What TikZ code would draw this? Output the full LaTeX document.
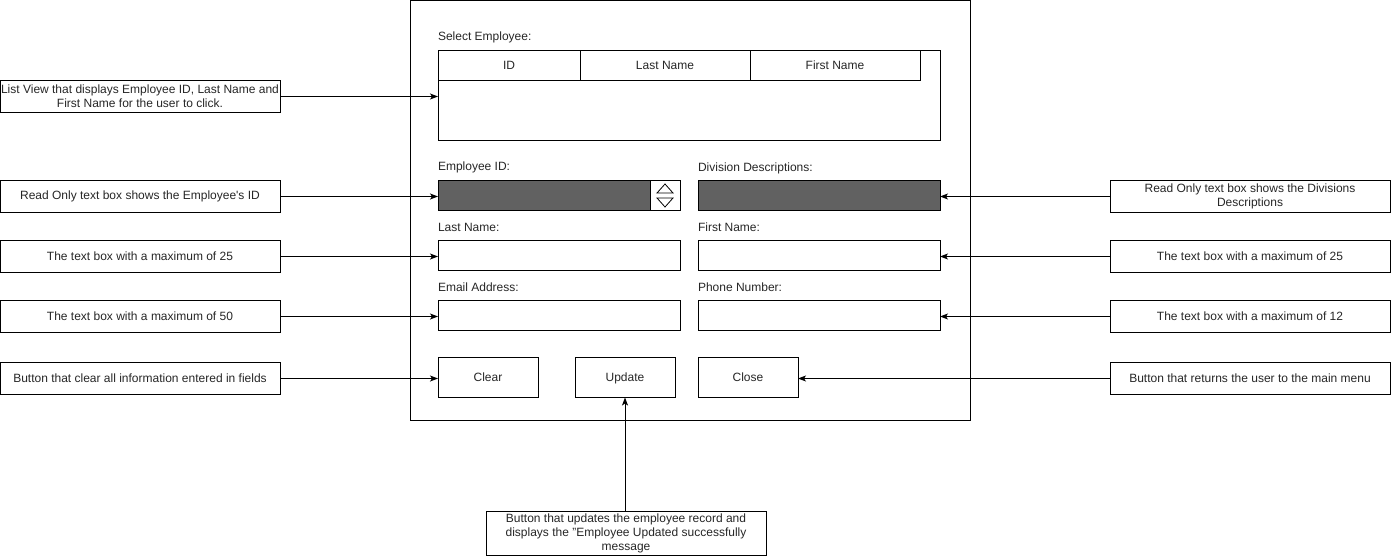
\documentclass[tikz,border=0pt]{standalone}
\usepackage{fontspec}
\setmainfont{Liberation Sans}
\usetikzlibrary{arrows.meta}
\begin{document}
\begin{tikzpicture}[x=1pt,y=-1pt,
  every node/.style={inner sep=0pt,outer sep=0pt,font=\fontsize{12}{14}\selectfont,text=black!85},
  box/.style={draw=black,line width=1pt,rectangle},
  lbl/.style={box,minimum width=280pt,minimum height=32pt,align=center},
  field/.style={box,minimum width=242pt,minimum height=30pt},
  ro/.style={field,fill=black!62},
  btn/.style={box,minimum width=100pt,minimum height=40pt,text height=8.6pt,text depth=0pt},
  hcell/.style={box,minimum height=30pt,text height=8.6pt,text depth=0pt},
  fldcap/.style={anchor=west},
  arr/.style={line width=1pt,-{Stealth[length=8pt,width=6pt,inset=2pt]}}]
\useasboundingbox (0,0) rectangle (1391,556);

% form frame
\node[box,minimum width=560pt,minimum height=420pt] (frame) at (690,210.5) {};

% employee list view
\node[fldcap] (selcap) at (438,37) {Select Employee:};
\node[box,minimum width=502pt,minimum height=90pt] (list) at (689,95.5) {};
\node[hcell,minimum width=142pt] (hid) at (509,65.5) {ID};
\node[hcell,minimum width=170pt] (hlast) at (665,65.5) {Last Name};
\node[hcell,minimum width=170pt] (hfirst) at (835,65.5) {First Name};

% read-only fields
\node[fldcap] (eidcap) at (438,167) {Employee ID:};
\node[ro] (eid) at (559,195.5) {};
\node[box,fill=white,minimum width=30pt,minimum height=30pt] (spin) at (665,195.5) {};
\draw[line width=0.8pt] (657,193) -- (665,184) -- (673,193) -- cycle;
\draw[line width=0.8pt] (657,198) -- (665,207) -- (673,198) -- cycle;
\node[fldcap] (divcap) at (698,168) {Division Descriptions:};
\node[ro] (div) at (819,195.5) {};

% editable fields
\node[fldcap] (lastcap) at (438,227) {Last Name:};
\node[field] (last) at (559,255.5) {};
\node[fldcap] (firstcap) at (698,227) {First Name:};
\node[field] (first) at (819,255.5) {};
\node[fldcap] (mailcap) at (438,287) {Email Address:};
\node[field] (mail) at (559,315.5) {};
\node[fldcap] (phonecap) at (698,287) {Phone Number:};
\node[field] (phone) at (819,315.5) {};

% buttons
\node[btn] (clear) at (488,377.5) {Clear};
\node[btn] (update) at (625,377.5) {Update};
\node[btn] (close) at (748,377.5) {Close};

% annotations, left
\node[lbl] (nlist) at (140,96.5) {List View that displays Employee ID, Last Name and\\First Name for the user to click.};
\node[lbl] (neid) at (140,196.5) {Read Only text box shows the Employee\textquotesingle s ID};
\node[lbl] (nlast) at (140,256.5) {The text box with a maximum of 25};
\node[lbl] (nmail) at (140,316.5) {The text box with a maximum of 50};
\node[lbl] (nclear) at (140,378.5) {Button that clear all information entered in fields};

% annotations, right
\node[lbl] (ndiv) at (1250,196.5) {Read Only text box shows the Divisions\\Descriptions};
\node[lbl] (nfirst) at (1250,256.5) {The text box with a maximum of 25};
\node[lbl] (nphone) at (1250,316.5) {The text box with a maximum of 12};
\node[lbl] (nclose) at (1250,378.5) {Button that returns the user to the main menu};

% annotation, bottom
\node[lbl,minimum height=44pt] (nupdate) at (626,533) {Button that updates the employee record and\\displays the "Employee Updated successfully\\message};

% connectors
\draw[arr] (nlist.east) -- (nlist.east -| list.west);
\draw[arr] (neid.east) -- (neid.east -| eid.west);
\draw[arr] (nlast.east) -- (nlast.east -| last.west);
\draw[arr] (nmail.east) -- (nmail.east -| mail.west);
\draw[arr] (nclear.east) -- (nclear.east -| clear.west);
\draw[arr] (ndiv.west) -- (ndiv.west -| div.east);
\draw[arr] (nfirst.west) -- (nfirst.west -| first.east);
\draw[arr] (nphone.west) -- (nphone.west -| phone.east);
\draw[arr] (nclose.west) -- (nclose.west -| close.east);
\draw[arr] (update.south |- nupdate.north) -- (update.south);
\end{tikzpicture}
\end{document}
